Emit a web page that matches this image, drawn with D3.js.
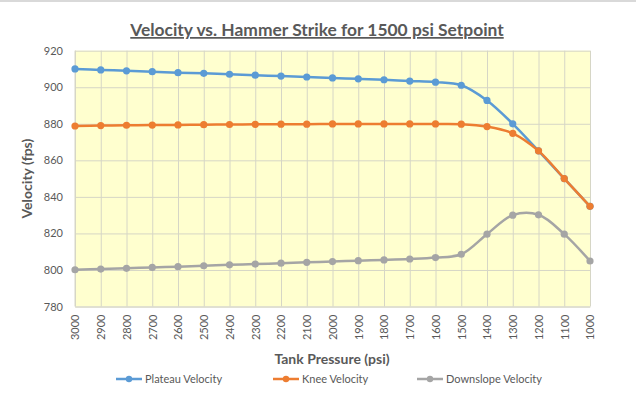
<!DOCTYPE html>
<html>
<head>
<meta charset="utf-8">
<script src="https://cdn.jsdelivr.net/npm/d3@7"></script>
<style>
  body { margin: 0; background: #fff; }
  svg { display: block; font-family: Lato, "Open Sans", sans-serif; }
</style>
</head>
<body>
<div id="chart"></div>
<script>
// tank pressures (x categories, left to right)
const pressures = [3000, 2900, 2800, 2700, 2600, 2500, 2400, 2300, 2200, 2100, 2000,
  1900, 1800, 1700, 1600, 1500, 1400, 1300, 1200, 1100, 1000];

// velocity series (fps)
const plateauVelocity = [910, 909.5, 909, 908.5, 908, 907.6, 907.1, 906.6, 906.1, 905.6, 905.1,
  904.6, 904.1, 903.4, 902.8, 901.1, 892.8, 880, 865.2, 850, 834.8];
const kneeVelocity = [878.8, 879, 879.2, 879.3, 879.4, 879.5, 879.6, 879.7, 879.8, 879.8, 879.9,
  879.9, 879.9, 879.9, 879.9, 879.8, 878.5, 874.8, 865.2, 850, 834.8];
const downslopeVelocity = [800.1, 800.5, 800.9, 801.4, 801.8, 802.3, 802.8, 803.2, 803.7, 804.2, 804.6,
  805.1, 805.5, 806, 806.8, 808.6, 819.6, 830, 830.2, 819.6, 804.9];

const seriesNames = ['Plateau Velocity', 'Knee Velocity', 'Downslope Velocity'];
const seriesValues = [plateauVelocity, kneeVelocity, downslopeVelocity];
const seriesColors = ['#5b9bd5', '#ed7d31', '#a5a5a5'];

const yTicks = [780, 800, 820, 840, 860, 880, 900, 920];

// chart size and plot area
const width = 636;
const height = 395;
const plot = { left: 75, right: 590, top: 50.7, bottom: 306.5 };

const svg = d3.select('#chart')
  .append('svg')
    .attr('width', width)
    .attr('height', height);

// thin frame line along the top, as in the picture
svg.append('line')
  .attr('x1', 0).attr('x2', width)
  .attr('y1', 1).attr('y2', 1)
  .attr('stroke', '#d9d9d9')
  .attr('stroke-width', 2);

// scales
const x = d3.scalePoint()
  .domain(pressures)
  .range([plot.left, plot.right]);
const y = d3.scaleLinear()
  .domain([780, 920])
  .range([plot.bottom, plot.top]);

// plot area background
svg.append('rect')
  .attr('x', plot.left)
  .attr('y', plot.top)
  .attr('width', plot.right - plot.left)
  .attr('height', plot.bottom - plot.top)
  .attr('fill', '#ffffcf');

// horizontal grid and y axis labels
const yAxis = svg.append('g')
  .attr('transform', `translate(${plot.left},0)`)
  .call(d3.axisLeft(y).tickValues(yTicks).tickSize(-(plot.right - plot.left)).tickPadding(12));
yAxis.select('.domain').remove();
yAxis.selectAll('line').attr('stroke', '#d6d6c6');
yAxis.selectAll('text')
  .attr('fill', '#595959')
  .style('font-size', '11px')
  .style('font-family', 'Lato, sans-serif');

// vertical grid and rotated x axis labels
const xAxis = svg.append('g')
  .attr('transform', `translate(0,${plot.bottom})`)
  .call(d3.axisBottom(x).tickSize(-(plot.bottom - plot.top)).tickSizeOuter(0));
xAxis.select('.domain').attr('stroke', '#d6d6c6');
xAxis.selectAll('line').attr('stroke', '#d6d6c6');
xAxis.selectAll('text')
  .attr('fill', '#595959')
  .style('font-size', '11px')
  .style('font-family', 'Lato, sans-serif')
  .attr('transform', 'rotate(-90)')
  .attr('x', -8)
  .attr('y', 0)
  .attr('dy', '0.35em')
  .style('text-anchor', 'end');

// left border of plot area
svg.append('line')
  .attr('x1', plot.left).attr('x2', plot.left)
  .attr('y1', plot.top).attr('y2', plot.bottom)
  .attr('stroke', '#d6d6c6');

// smoothed lines
const line = d3.line()
  .x((d, i) => x(pressures[i]))
  .y(d => y(d))
  .curve(d3.curveCatmullRom.alpha(0.5));

seriesValues.forEach((values, s) => {
  const g = svg.append('g');
  g.append('path')
    .datum(values)
    .attr('d', line)
    .attr('fill', 'none')
    .attr('stroke', seriesColors[s])
    .attr('stroke-width', 2.5)
    .attr('stroke-linecap', 'round');
  g.selectAll('circle')
    .data(values)
    .join('circle')
      .attr('cx', (d, i) => x(pressures[i]))
      .attr('cy', d => y(d))
      .attr('r', 3.6)
      .attr('fill', seriesColors[s]);
});

// title
svg.append('text')
  .attr('x', 317)
  .attr('y', 36)
  .attr('text-anchor', 'middle')
  .attr('fill', '#595959')
  .style('font-size', '17.4px')
  .style('font-weight', 'bold')
  .style('text-decoration', 'underline')
  .text('Velocity vs. Hammer Strike for 1500 psi Setpoint');

// axis titles
svg.append('text')
  .attr('transform', `translate(32,${(plot.top + plot.bottom) / 2}) rotate(-90)`)
  .attr('text-anchor', 'middle')
  .attr('fill', '#595959')
  .style('font-size', '14px')
  .style('font-weight', 'bold')
  .text('Velocity (fps)');

svg.append('text')
  .attr('x', 332)
  .attr('y', 364)
  .attr('text-anchor', 'middle')
  .attr('fill', '#595959')
  .style('font-size', '14px')
  .style('font-weight', 'bold')
  .text('Tank Pressure (psi)');

// legend
const legendX = [116, 273, 417];
const legend = svg.append('g')
  .selectAll('g')
  .data(seriesNames)
  .join('g')
    .attr('transform', (d, i) => `translate(${legendX[i]},379)`);
legend.append('line')
  .attr('x1', 0).attr('x2', 26)
  .attr('stroke', (d, i) => seriesColors[i])
  .attr('stroke-width', 2.5);
legend.append('circle')
  .attr('cx', 13)
  .attr('r', 3.2)
  .attr('fill', (d, i) => seriesColors[i]);
legend.append('text')
  .attr('x', 29)
  .attr('dy', '0.35em')
  .attr('fill', '#595959')
  .style('font-size', '11px')
  .text(d => d);
</script>
</body>
</html>
